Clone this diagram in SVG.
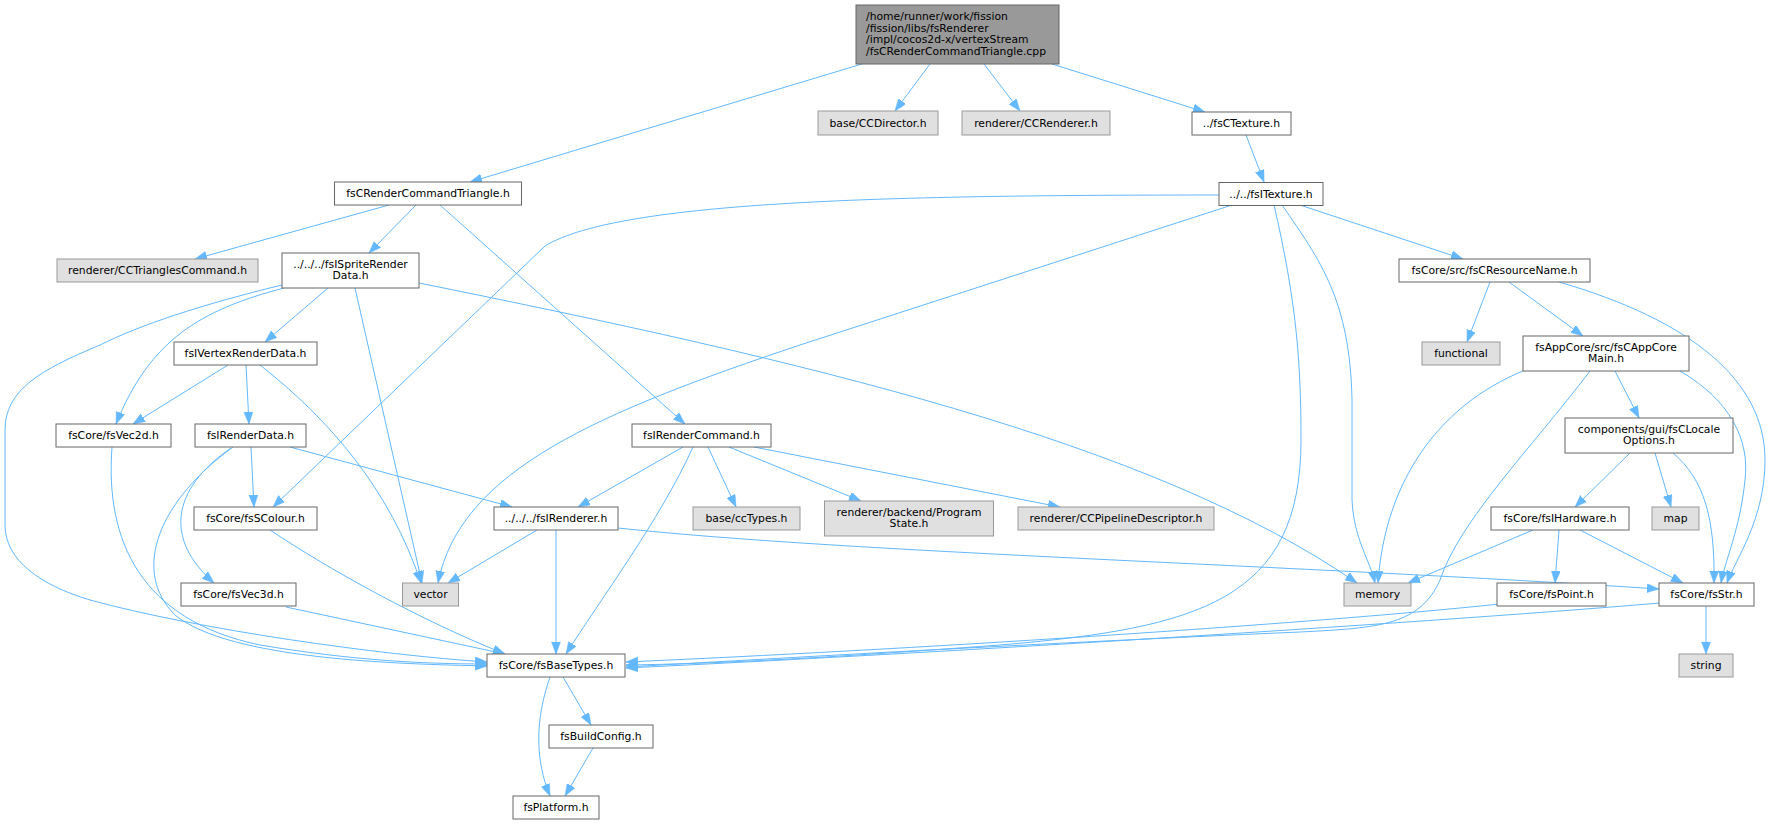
<svg xmlns="http://www.w3.org/2000/svg" width="1779" height="824" viewBox="0 0 1779 824">
<style>
.n rect{fill:#ffffff;stroke:#666666;stroke-width:1}
.x rect{fill:#e0e0e0;stroke:#999999;stroke-width:1}
.m rect{fill:#999999;stroke:#666666;stroke-width:1}
text{font-family:"DejaVu Sans","Liberation Sans",sans-serif;font-size:10.8px;fill:#000000;text-anchor:middle}
text.l{text-anchor:start}
#edges path{fill:none;stroke:#63b8ff;stroke-width:1;marker-end:url(#ah)}
</style>
<defs>
<marker id="ah" markerUnits="userSpaceOnUse" markerWidth="12" markerHeight="10" refX="12" refY="4.5" orient="auto">
<path d="M0,0 L12,4.5 L0,9 z" fill="#63b8ff" stroke="#63b8ff" stroke-width="0.5"/>
</marker>
</defs>
<rect width="1779" height="824" fill="#ffffff"/>
<g id="edges">
<path d="M862,64 L470,182"/>
<path d="M930,64 L895,111"/>
<path d="M984,64 L1020,111"/>
<path d="M1052,64 L1205,112"/>
<path d="M389,205 L195,259"/>
<path d="M416,205 L369,253"/>
<path d="M440,205 L685,424"/>
<path d="M1246,135 L1264,182"/>
<path d="M1300,205 L1463,259"/>
<path d="M1219,195 C 900,195 620,200 545,246 L 273,507"/>
<path d="M1232,205 L 800,345 C 600,412 460,470 438,583"/>
<path d="M1282,205 C 1320,260 1350,300 1352,400 L 1352,500 C 1354,540 1370,560 1375,583"/>
<path d="M1274,205 C 1296,300 1301,360 1301,440 C 1301,600 1200,628 1000,645 C 800,660 700,664 626,665"/>
<path d="M1490,282 L1467,342"/>
<path d="M1509,282 L1583,336"/>
<path d="M1559,282 C 1690,320 1765,380 1765,460 C 1765,520 1735,560 1727,583"/>
<path d="M1523,371 C 1440,405 1385,480 1378,583"/>
<path d="M1590,371 C 1530,450 1460,520 1440,580 C 1420,625 1380,628 1300,632 C 1000,645 750,660 626,667"/>
<path d="M1615,371 L1639,418"/>
<path d="M1680,371 C 1730,400 1750,440 1745,480 C 1740,530 1725,560 1721,583"/>
<path d="M1630,453 L1575,507"/>
<path d="M1655,453 L1671,507"/>
<path d="M1673,453 C 1705,480 1715,520 1714,583"/>
<path d="M1533,530 L1408,583"/>
<path d="M1559,530 L1555,583"/>
<path d="M1580,530 L1683,583"/>
<path d="M1500,604 C 1300,625 900,650 626,662"/>
<path d="M1660,603 C 1400,625 900,655 626,668"/>
<path d="M1706,606 L1706,654"/>
<path d="M328,288 L265,342"/>
<path d="M284,288 C 200,310 150,340 116,424"/>
<path d="M282,285 C 200,305 140,325 100,345 C 40,370 5,390 5,430 L5,525 C 5,560 40,585 90,600 C 200,630 380,655 487,662"/>
<path d="M355,288 L422,583"/>
<path d="M419,283 C 800,360 1150,440 1357,583"/>
<path d="M228,365 L133,424"/>
<path d="M246,365 L249,424"/>
<path d="M260,365 C 330,420 390,490 421,583"/>
<path d="M251,447 L254,507"/>
<path d="M231,448 C 170,490 165,540 214,583"/>
<path d="M233,447 C 160,500 130,570 175,615 C 230,660 400,664 487,666"/>
<path d="M290,447 L512,507"/>
<path d="M112,447 C 105,540 140,620 260,645 C 350,660 420,664 487,664"/>
<path d="M270,530 C 330,570 420,620 505,654"/>
<path d="M286,607 L505,654"/>
<path d="M683,447 L578,507"/>
<path d="M693,447 C 660,520 600,600 566,654"/>
<path d="M708,447 L736,507"/>
<path d="M729,447 L861,501"/>
<path d="M754,447 L1060,507"/>
<path d="M537,530 L448,583"/>
<path d="M556,530 L556,654"/>
<path d="M618,528 C 850,553 1300,565 1659,589"/>
<path d="M563,677 L591,725"/>
<path d="M550,677 C 535,720 535,760 550,796"/>
<path d="M593,748 L565,796"/>
</g>
<g id="n_main" class="m"><rect x="856" y="5" width="203" height="59"/>
<text class="l" x="866" y="20">/home/runner/work/fission</text>
<text class="l" x="866" y="31.7">/fission/libs/fsRenderer</text>
<text class="l" x="866" y="43.3">/impl/cocos2d-x/vertexStream</text>
<text class="l" x="866" y="55">/fsCRenderCommandTriangle.cpp</text></g>
<g id="n_ccdirector" class="x"><rect x="818" y="111" width="120" height="24"/><text x="878" y="126.5">base/CCDirector.h</text></g>
<g id="n_ccrenderer" class="x"><rect x="962" y="111" width="148" height="24"/><text x="1036" y="126.5">renderer/CCRenderer.h</text></g>
<g id="n_fsctexture" class="n"><rect x="1192" y="112" width="99" height="23"/><text x="1241.5" y="127">../fsCTexture.h</text></g>
<g id="n_fscrct" class="n"><rect x="334.5" y="182" width="187" height="23"/><text x="428" y="197">fsCRenderCommandTriangle.h</text></g>
<g id="n_fsitexture" class="n"><rect x="1219" y="182.5" width="104" height="23"/><text x="1271" y="197.5">../../fsITexture.h</text></g>
<g id="n_cctriangles" class="x"><rect x="57" y="259" width="201" height="23"/><text x="157.5" y="274">renderer/CCTrianglesCommand.h</text></g>
<g id="n_fsisprite" class="n"><rect x="282" y="253" width="137" height="35"/><text x="350.5" y="267.5">../../../fsISpriteRender</text><text x="350.5" y="279.2">Data.h</text></g>
<g id="n_fscresname" class="n"><rect x="1399" y="259" width="191" height="23"/><text x="1494.5" y="274">fsCore/src/fsCResourceName.h</text></g>
<g id="n_fsivertex" class="n"><rect x="174" y="342" width="143" height="23"/><text x="245.5" y="357">fsIVertexRenderData.h</text></g>
<g id="n_functional" class="x"><rect x="1422" y="342" width="78" height="23"/><text x="1461" y="357">functional</text></g>
<g id="n_fscappcore" class="n"><rect x="1523" y="336" width="166" height="35"/><text x="1606" y="350.5">fsAppCore/src/fsCAppCore</text><text x="1606" y="362.2">Main.h</text></g>
<g id="n_fsvec2d" class="n"><rect x="56" y="424" width="115" height="23"/><text x="113.5" y="439">fsCore/fsVec2d.h</text></g>
<g id="n_fsirenderdata" class="n"><rect x="195" y="424" width="111" height="23"/><text x="250.5" y="439">fsIRenderData.h</text></g>
<g id="n_fsirendercmd" class="n"><rect x="632" y="424" width="139" height="23"/><text x="701.5" y="439">fsIRenderCommand.h</text></g>
<g id="n_components" class="n"><rect x="1565" y="418" width="168" height="35"/><text x="1649" y="432.5">components/gui/fsCLocale</text><text x="1649" y="444.2">Options.h</text></g>
<g id="n_fsscolour" class="n"><rect x="194" y="507" width="123" height="23"/><text x="255.5" y="522">fsCore/fsSColour.h</text></g>
<g id="n_fsirenderer" class="n"><rect x="494" y="507" width="124" height="23"/><text x="556" y="522">../../../fsIRenderer.h</text></g>
<g id="n_cctypes" class="x"><rect x="693" y="507" width="107" height="23"/><text x="746.5" y="522">base/ccTypes.h</text></g>
<g id="n_programstate" class="x"><rect x="824.5" y="501" width="169" height="35"/><text x="909" y="515.5">renderer/backend/Program</text><text x="909" y="527.2">State.h</text></g>
<g id="n_ccpipeline" class="x"><rect x="1018" y="507" width="196" height="23"/><text x="1116" y="522">renderer/CCPipelineDescriptor.h</text></g>
<g id="n_fsihardware" class="n"><rect x="1491" y="507" width="138" height="23"/><text x="1560" y="522">fsCore/fsIHardware.h</text></g>
<g id="n_map" class="x"><rect x="1652" y="507" width="47" height="23"/><text x="1675.5" y="522">map</text></g>
<g id="n_fsvec3d" class="n"><rect x="181" y="583" width="115" height="23"/><text x="238.5" y="598">fsCore/fsVec3d.h</text></g>
<g id="n_vector" class="x"><rect x="402.5" y="583" width="56" height="23"/><text x="430.5" y="598">vector</text></g>
<g id="n_memory" class="x"><rect x="1344" y="583" width="67" height="23"/><text x="1377.5" y="598">memory</text></g>
<g id="n_fspoint" class="n"><rect x="1497" y="583" width="109" height="23"/><text x="1551.5" y="598">fsCore/fsPoint.h</text></g>
<g id="n_fsstr" class="n"><rect x="1659" y="583" width="95" height="23"/><text x="1706.5" y="598">fsCore/fsStr.h</text></g>
<g id="n_fsbasetypes" class="n"><rect x="487" y="654" width="138" height="23"/><text x="556" y="669">fsCore/fsBaseTypes.h</text></g>
<g id="n_string" class="x"><rect x="1679" y="654" width="54" height="23"/><text x="1706" y="669">string</text></g>
<g id="n_fsbuildconfig" class="n"><rect x="549" y="725" width="104" height="23"/><text x="601" y="740">fsBuildConfig.h</text></g>
<g id="n_fsplatform" class="n"><rect x="513" y="796" width="86" height="23"/><text x="556" y="811">fsPlatform.h</text></g>
</svg>
